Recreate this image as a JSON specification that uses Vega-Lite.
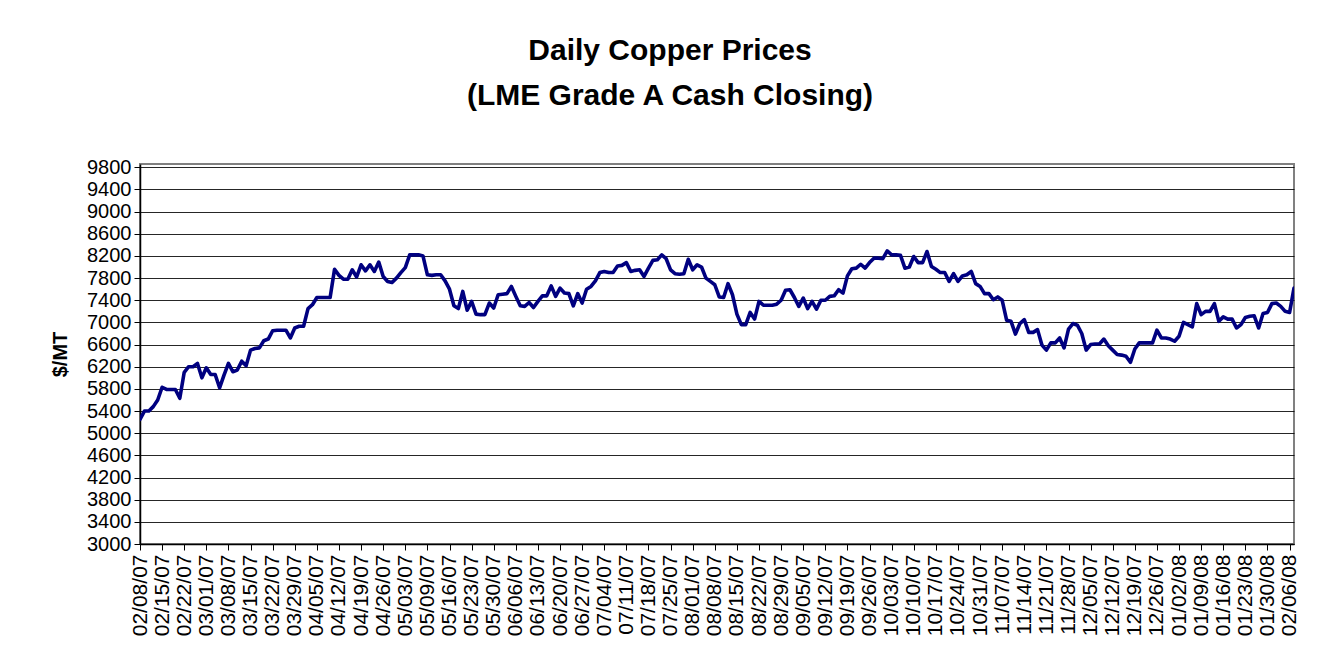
{
  "$schema": "https://vega.github.io/schema/vega-lite/v6.json",
  "width": 1154,
  "height": 380,
  "autosize": "none",
  "padding": {"left": 140, "top": 164, "right": 45, "bottom": 119},
  "background": "white",
  "config": {
    "font": "Liberation Sans",
    "view": {"stroke": "#808080", "strokeWidth": 2}
  },
  "title": {
    "text": ["Daily Copper Prices", "(LME Grade A Cash Closing)"],
    "font": "Liberation Sans",
    "fontSize": 30,
    "fontWeight": "bold",
    "color": "black",
    "anchor": "middle",
    "dx": -47,
    "offset": 46,
    "lineHeight": 45
  },
  "data": {
    "values": [
      {"d":"02/08/07","p":5250},{"d":"02/09/07","p":5400},{"d":"02/12/07","p":5400},{"d":"02/13/07","p":5480},{"d":"02/14/07","p":5600},
      {"d":"02/15/07","p":5830},{"d":"02/16/07","p":5790},{"d":"02/19/07","p":5790},{"d":"02/20/07","p":5790},{"d":"02/21/07","p":5630},
      {"d":"02/22/07","p":6100},{"d":"02/23/07","p":6200},{"d":"02/26/07","p":6200},{"d":"02/27/07","p":6260},{"d":"02/28/07","p":6000},
      {"d":"03/01/07","p":6180},{"d":"03/02/07","p":6060},{"d":"03/05/07","p":6060},{"d":"03/06/07","p":5820},{"d":"03/07/07","p":6050},
      {"d":"03/08/07","p":6260},{"d":"03/09/07","p":6110},{"d":"03/12/07","p":6140},{"d":"03/13/07","p":6300},{"d":"03/14/07","p":6220},
      {"d":"03/15/07","p":6500},{"d":"03/16/07","p":6530},{"d":"03/19/07","p":6540},{"d":"03/20/07","p":6670},{"d":"03/21/07","p":6700},
      {"d":"03/22/07","p":6850},{"d":"03/23/07","p":6860},{"d":"03/26/07","p":6860},{"d":"03/27/07","p":6860},{"d":"03/28/07","p":6720},
      {"d":"03/29/07","p":6900},{"d":"03/30/07","p":6930},{"d":"04/02/07","p":6930},{"d":"04/03/07","p":7250},{"d":"04/04/07","p":7320},
      {"d":"04/05/07","p":7450},{"d":"04/06/07","p":7450},{"d":"04/09/07","p":7450},{"d":"04/10/07","p":7450},{"d":"04/11/07","p":7960},
      {"d":"04/12/07","p":7850},{"d":"04/13/07","p":7780},{"d":"04/16/07","p":7780},{"d":"04/17/07","p":7950},{"d":"04/18/07","p":7820},
      {"d":"04/19/07","p":8040},{"d":"04/20/07","p":7930},{"d":"04/23/07","p":8040},{"d":"04/24/07","p":7920},{"d":"04/25/07","p":8090},
      {"d":"04/26/07","p":7830},{"d":"04/27/07","p":7740},{"d":"04/30/07","p":7720},{"d":"05/01/07","p":7800},{"d":"05/02/07","p":7900},
      {"d":"05/03/07","p":7990},{"d":"05/04/07","p":8220},{"d":"05/05/07","p":8220},{"d":"05/07/07","p":8220},{"d":"05/08/07","p":8200},
      {"d":"05/09/07","p":7860},{"d":"05/10/07","p":7850},{"d":"05/11/07","p":7860},{"d":"05/14/07","p":7860},{"d":"05/15/07","p":7750},
      {"d":"05/16/07","p":7600},{"d":"05/17/07","p":7300},{"d":"05/18/07","p":7250},{"d":"05/21/07","p":7560},{"d":"05/22/07","p":7220},
      {"d":"05/23/07","p":7380},{"d":"05/24/07","p":7150},{"d":"05/25/07","p":7140},{"d":"05/28/07","p":7140},{"d":"05/29/07","p":7350},
      {"d":"05/30/07","p":7260},{"d":"05/31/07","p":7500},{"d":"06/01/07","p":7510},{"d":"06/04/07","p":7520},{"d":"06/05/07","p":7650},
      {"d":"06/06/07","p":7470},{"d":"06/07/07","p":7300},{"d":"06/08/07","p":7290},{"d":"06/11/07","p":7360},{"d":"06/12/07","p":7270},
      {"d":"06/13/07","p":7380},{"d":"06/14/07","p":7480},{"d":"06/15/07","p":7480},{"d":"06/18/07","p":7660},{"d":"06/19/07","p":7470},
      {"d":"06/20/07","p":7620},{"d":"06/21/07","p":7530},{"d":"06/22/07","p":7520},{"d":"06/25/07","p":7300},{"d":"06/26/07","p":7520},
      {"d":"06/27/07","p":7350},{"d":"06/28/07","p":7600},{"d":"06/29/07","p":7650},{"d":"07/02/07","p":7750},{"d":"07/03/07","p":7900},
      {"d":"07/04/07","p":7920},{"d":"07/05/07","p":7900},{"d":"07/06/07","p":7900},{"d":"07/09/07","p":8020},{"d":"07/10/07","p":8030},
      {"d":"07/11/07","p":8080},{"d":"07/12/07","p":7920},{"d":"07/13/07","p":7940},{"d":"07/16/07","p":7950},{"d":"07/17/07","p":7830},
      {"d":"07/18/07","p":7980},{"d":"07/19/07","p":8120},{"d":"07/20/07","p":8130},{"d":"07/23/07","p":8220},{"d":"07/24/07","p":8150},
      {"d":"07/25/07","p":7950},{"d":"07/26/07","p":7880},{"d":"07/27/07","p":7870},{"d":"07/30/07","p":7880},{"d":"07/31/07","p":8140},
      {"d":"08/01/07","p":7950},{"d":"08/02/07","p":8040},{"d":"08/03/07","p":8000},{"d":"08/06/07","p":7800},{"d":"08/07/07","p":7740},
      {"d":"08/08/07","p":7680},{"d":"08/09/07","p":7460},{"d":"08/10/07","p":7450},{"d":"08/13/07","p":7700},{"d":"08/14/07","p":7500},
      {"d":"08/15/07","p":7150},{"d":"08/16/07","p":6960},{"d":"08/17/07","p":6960},{"d":"08/20/07","p":7180},{"d":"08/21/07","p":7060},
      {"d":"08/22/07","p":7380},{"d":"08/23/07","p":7310},{"d":"08/24/07","p":7310},{"d":"08/27/07","p":7310},{"d":"08/28/07","p":7330},
      {"d":"08/29/07","p":7400},{"d":"08/30/07","p":7580},{"d":"08/31/07","p":7590},{"d":"09/03/07","p":7450},{"d":"09/04/07","p":7290},
      {"d":"09/05/07","p":7440},{"d":"09/06/07","p":7250},{"d":"09/07/07","p":7380},{"d":"09/10/07","p":7240},{"d":"09/11/07","p":7400},
      {"d":"09/12/07","p":7400},{"d":"09/13/07","p":7470},{"d":"09/14/07","p":7480},{"d":"09/17/07","p":7590},{"d":"09/18/07","p":7530},
      {"d":"09/19/07","p":7840},{"d":"09/20/07","p":7970},{"d":"09/21/07","p":7980},{"d":"09/24/07","p":8050},{"d":"09/25/07","p":7980},
      {"d":"09/26/07","p":8080},{"d":"09/27/07","p":8160},{"d":"09/28/07","p":8160},{"d":"10/01/07","p":8150},{"d":"10/02/07","p":8290},
      {"d":"10/03/07","p":8220},{"d":"10/04/07","p":8220},{"d":"10/05/07","p":8210},{"d":"10/08/07","p":7980},{"d":"10/09/07","p":8000},
      {"d":"10/10/07","p":8190},{"d":"10/11/07","p":8080},{"d":"10/12/07","p":8080},{"d":"10/15/07","p":8280},{"d":"10/16/07","p":8010},
      {"d":"10/17/07","p":7960},{"d":"10/18/07","p":7900},{"d":"10/19/07","p":7900},{"d":"10/22/07","p":7740},{"d":"10/23/07","p":7880},
      {"d":"10/24/07","p":7740},{"d":"10/25/07","p":7840},{"d":"10/26/07","p":7860},{"d":"10/29/07","p":7920},{"d":"10/30/07","p":7700},
      {"d":"10/31/07","p":7650},{"d":"11/01/07","p":7520},{"d":"11/02/07","p":7520},{"d":"11/05/07","p":7410},{"d":"11/06/07","p":7460},
      {"d":"11/07/07","p":7400},{"d":"11/08/07","p":7040},{"d":"11/09/07","p":7020},{"d":"11/12/07","p":6790},{"d":"11/13/07","p":6980},
      {"d":"11/14/07","p":7050},{"d":"11/15/07","p":6820},{"d":"11/16/07","p":6820},{"d":"11/19/07","p":6870},{"d":"11/20/07","p":6590},
      {"d":"11/21/07","p":6500},{"d":"11/22/07","p":6630},{"d":"11/23/07","p":6630},{"d":"11/26/07","p":6720},{"d":"11/27/07","p":6540},
      {"d":"11/28/07","p":6880},{"d":"11/29/07","p":6980},{"d":"11/30/07","p":6950},{"d":"12/03/07","p":6800},{"d":"12/04/07","p":6500},
      {"d":"12/05/07","p":6600},{"d":"12/06/07","p":6610},{"d":"12/07/07","p":6610},{"d":"12/10/07","p":6700},{"d":"12/11/07","p":6580},
      {"d":"12/12/07","p":6500},{"d":"12/13/07","p":6420},{"d":"12/14/07","p":6410},{"d":"12/17/07","p":6390},{"d":"12/18/07","p":6280},
      {"d":"12/19/07","p":6520},{"d":"12/20/07","p":6630},{"d":"12/21/07","p":6630},{"d":"12/24/07","p":6630},{"d":"12/25/07","p":6630},
      {"d":"12/26/07","p":6860},{"d":"12/27/07","p":6720},{"d":"12/28/07","p":6720},{"d":"12/31/07","p":6700},{"d":"01/01/08","p":6660},
      {"d":"01/02/08","p":6750},{"d":"01/03/08","p":7000},{"d":"01/04/08","p":6960},{"d":"01/07/08","p":6920},{"d":"01/08/08","p":7340},
      {"d":"01/09/08","p":7140},{"d":"01/10/08","p":7200},{"d":"01/11/08","p":7200},{"d":"01/14/08","p":7340},{"d":"01/15/08","p":7020},
      {"d":"01/16/08","p":7100},{"d":"01/17/08","p":7060},{"d":"01/18/08","p":7060},{"d":"01/21/08","p":6900},{"d":"01/22/08","p":6960},
      {"d":"01/23/08","p":7090},{"d":"01/24/08","p":7110},{"d":"01/25/08","p":7120},{"d":"01/28/08","p":6900},{"d":"01/29/08","p":7160},
      {"d":"01/30/08","p":7180},{"d":"01/31/08","p":7340},{"d":"02/01/08","p":7350},{"d":"02/04/08","p":7290},{"d":"02/05/08","p":7200},
      {"d":"02/06/08","p":7180},{"d":"02/07/08","p":7620}
    ]
  },
  "mark": {"type": "line", "color": "#000080", "strokeWidth": 3.6, "strokeJoin": "round", "strokeCap": "round", "clip": true},
  "encoding": {
    "x": {
      "field": "d",
      "type": "ordinal",
      "sort": null,
      "scale": {"type": "point", "padding": 0},
      "axis": {
        "title": null,
        "values": ["02/08/07","02/15/07","02/22/07","03/01/07","03/08/07","03/15/07","03/22/07","03/29/07","04/05/07","04/12/07","04/19/07","04/26/07","05/03/07","05/09/07","05/16/07","05/23/07","05/30/07","06/06/07","06/13/07","06/20/07","06/27/07","07/04/07","07/11/07","07/18/07","07/25/07","08/01/07","08/08/07","08/15/07","08/22/07","08/29/07","09/05/07","09/12/07","09/19/07","09/26/07","10/03/07","10/10/07","10/17/07","10/24/07","10/31/07","11/07/07","11/14/07","11/21/07","11/28/07","12/05/07","12/12/07","12/19/07","12/26/07","01/02/08","01/09/08","01/16/08","01/23/08","01/30/08","02/06/08"],
        "labelAngle": -90,
        "labelFontSize": 21,
        "labelColor": "black",
        "labelPadding": 4,
        "labelOverlap": false,
        "labelBound": false,
        "tickColor": "black",
        "tickSize": 6,
        "domainColor": "black",
        "domainWidth": 1.5,
        "grid": false
      }
    },
    "y": {
      "field": "p",
      "type": "quantitative",
      "scale": {"domain": [3000, 9860], "nice": false, "zero": false},
      "axis": {
        "title": "$/MT",
        "titleFontSize": 20,
        "titleFontWeight": "bold",
        "titleColor": "black",
        "titlePadding": 16,
        "format": "d",
        "values": [3000,3400,3800,4200,4600,5000,5400,5800,6200,6600,7000,7400,7800,8200,8600,9000,9400,9800],
        "labelFontSize": 20,
        "labelColor": "black",
        "labelPadding": 3,
        "labelOverlap": false,
        "tickColor": "black",
        "tickSize": 6,
        "domainColor": "black",
        "domainWidth": 1.5,
        "grid": true,
        "gridColor": "black",
        "gridWidth": 1,
        "gridOpacity": 0.85
      }
    }
  }
}
